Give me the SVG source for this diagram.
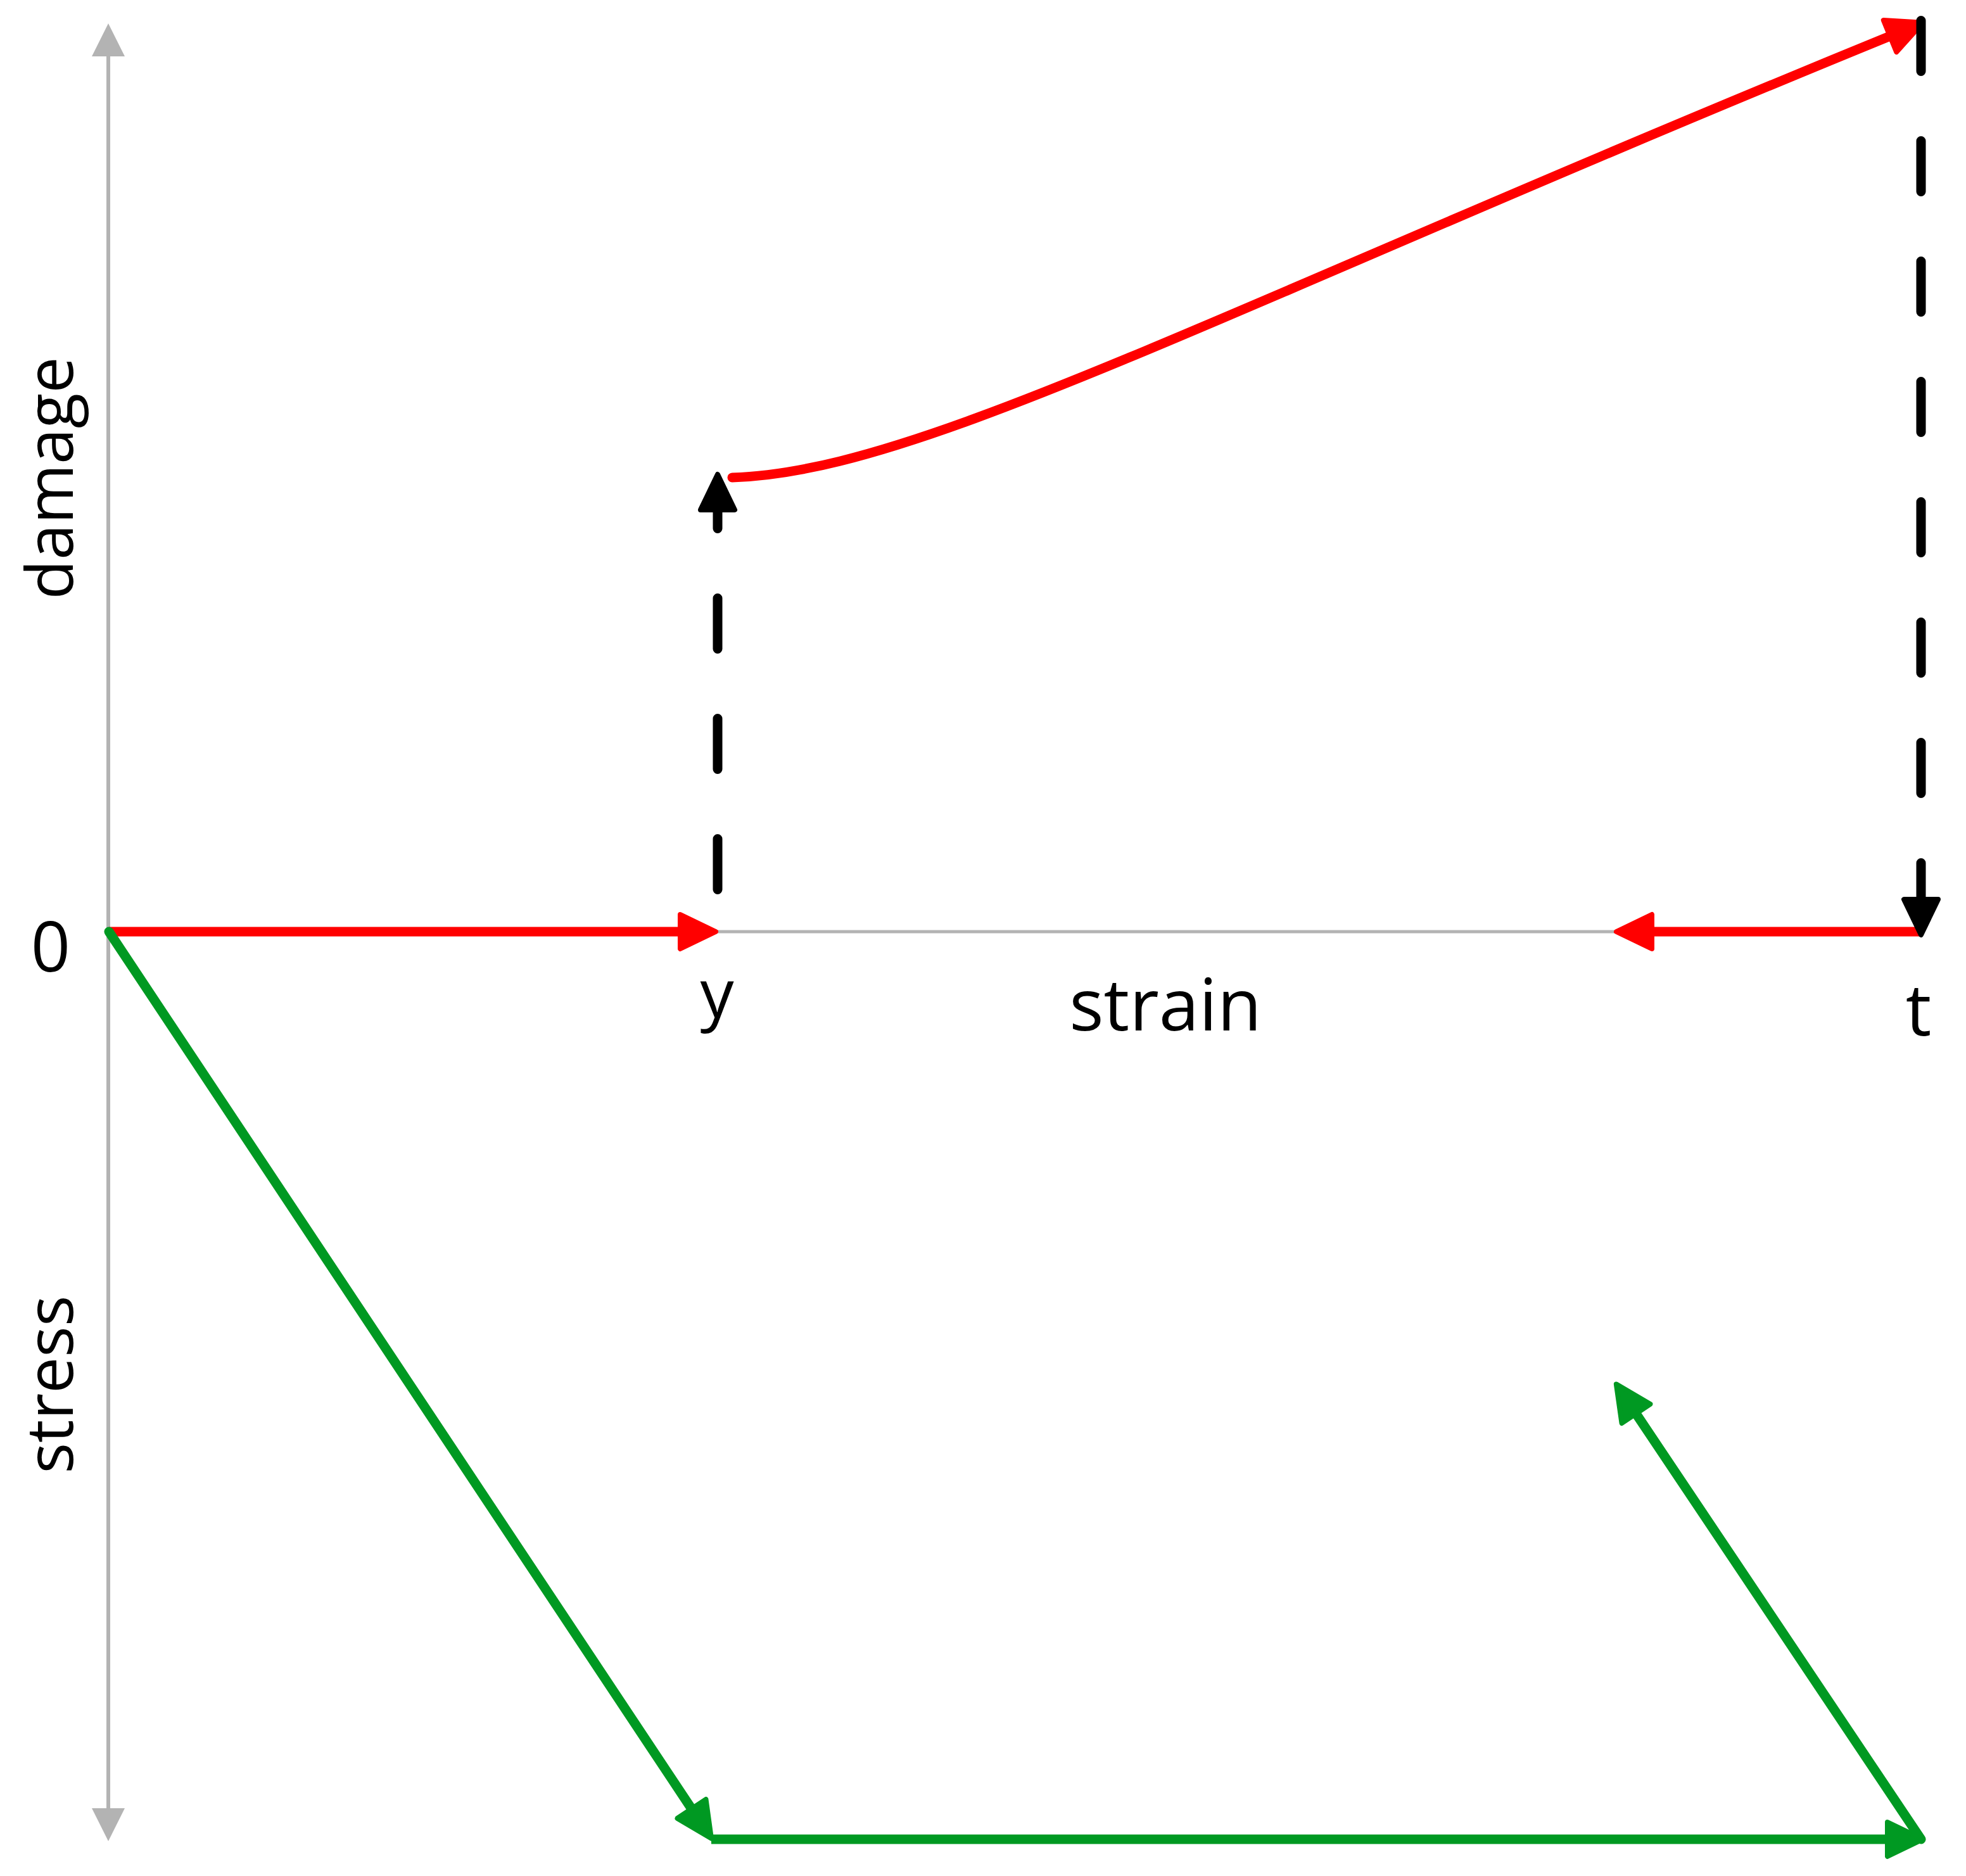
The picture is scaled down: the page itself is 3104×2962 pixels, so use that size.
<svg xmlns="http://www.w3.org/2000/svg" width="3104" height="2962" viewBox="0 0 3104 2962">
<style>
.axis{stroke:#b3b3b3;fill:none}
.red{stroke:#ff0000;stroke-width:15;fill:none}
.green{stroke:#009922;stroke-width:15;fill:none}
.dash{stroke:#000;stroke-width:15;fill:none;stroke-linecap:round;stroke-dasharray:80 110}
.lbl{font-family:"Open Sans","Noto Sans",sans-serif;fill:#000;text-anchor:middle}
</style>
<defs>
<marker id="mGray" markerUnits="userSpaceOnUse" orient="auto-start-reverse" refX="0" refY="0" markerWidth="60" markerHeight="60" overflow="visible"><path d="M0,-26 L52,0 L0,26 Z" fill="#b3b3b3"/></marker>
<marker id="mRed" markerUnits="userSpaceOnUse" orient="auto" refX="0" refY="0" markerWidth="60" markerHeight="60" overflow="visible"><path d="M0,-27 L56,0 L0,27 Z" fill="#ff0000" stroke="#ff0000" stroke-width="8" stroke-linejoin="round"/></marker>
<marker id="mGreen" markerUnits="userSpaceOnUse" orient="auto" refX="0" refY="0" markerWidth="60" markerHeight="60" overflow="visible"><path d="M0,-27 L56,0 L0,27 Z" fill="#009922" stroke="#009922" stroke-width="8" stroke-linejoin="round"/></marker>
<marker id="mBlack" markerUnits="userSpaceOnUse" orient="auto" refX="0" refY="0" markerWidth="60" markerHeight="60" overflow="visible"><path d="M0,-27 L56,0 L0,27 Z" fill="#000" stroke="#000" stroke-width="8" stroke-linejoin="round"/></marker>
</defs>
<g id="axes">
<path id="axis-vertical" class="axis" stroke-width="6" d="M171,2855 L171,89" marker-start="url(#mGray)" marker-end="url(#mGray)"/>
<path id="axis-horizontal" class="axis" stroke-width="5" d="M172,1471 L3033,1471"/>
</g>
<g id="labels">
<text id="lbl-0" class="lbl" x="80" y="1534" font-size="109">0</text>
<text id="lbl-y" class="lbl" x="1132" y="1607" font-size="106">y</text>
<text id="lbl-strain" class="lbl" x="1840" y="1627" font-size="114">strain</text>
<text id="lbl-t" class="lbl" x="3029" y="1635" font-size="114">t</text>
<text id="lbl-damage" class="lbl" x="115" y="755" font-size="102" transform="rotate(-90 115 755)">damage</text>
<text id="lbl-stress" class="lbl" x="115" y="2186" font-size="102" transform="rotate(-90 115 2186)">stress</text>
</g>
<g id="connectors">
<path id="red-0-y" class="red" d="M172,1471 L1074,1471" marker-end="url(#mRed)"/>
<path id="red-t-back" class="red" d="M3033,1471 L2608,1471" marker-end="url(#mRed)"/>
<path id="red-curve" class="red" stroke-linecap="round" d="M1156,754 C1450,745 1900,500 2984,57" marker-end="url(#mRed)"/>
<path id="green-load" class="green" stroke-linecap="round" d="M172,1471 L1092,2856" marker-end="url(#mGreen)"/>
<path id="green-flat" class="green" d="M1123,2904 L2980,2904" marker-end="url(#mGreen)"/>
<path id="green-unload" class="green" stroke-linecap="round" d="M3033,2904 L2583,2232" marker-end="url(#mGreen)"/>
<path id="black-up" class="dash" d="M1133,1404.5 L1133,805" marker-end="url(#mBlack)"/>
<path id="black-down" class="dash" d="M3033,32.5 L3033,1420" marker-end="url(#mBlack)"/>
</g>
</svg>
